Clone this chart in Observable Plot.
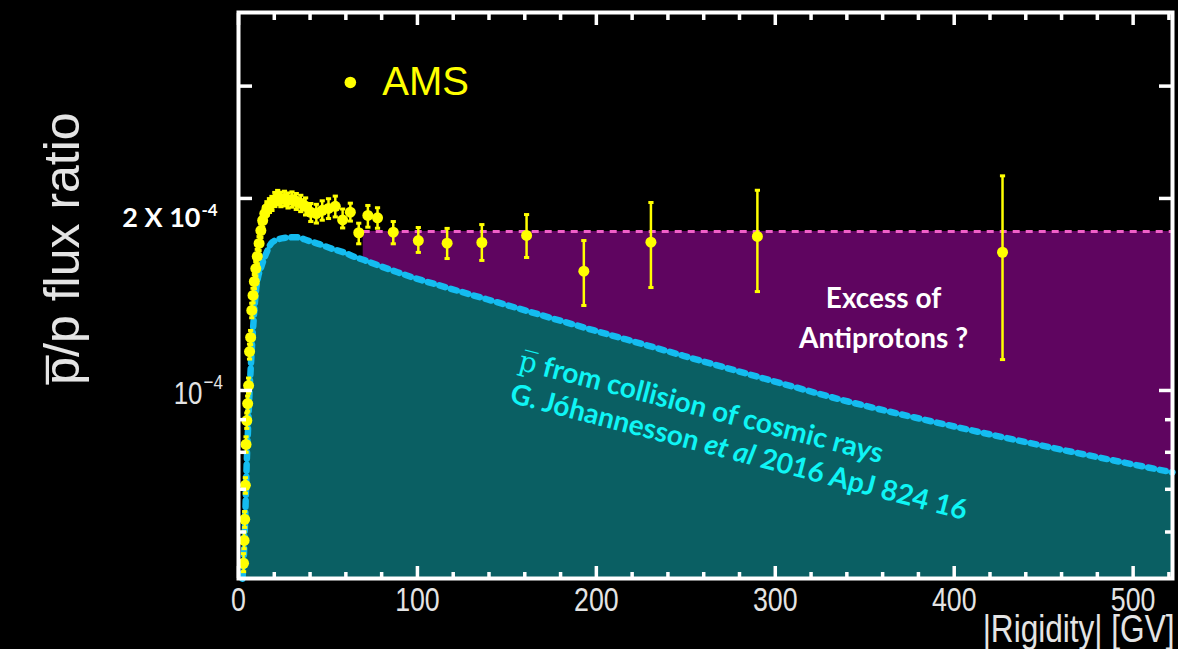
<!DOCTYPE html>
<html>
<head>
<meta charset="utf-8">
<script src="https://cdn.jsdelivr.net/npm/d3@7"></script>
<script src="https://cdn.jsdelivr.net/npm/@observablehq/plot@0.6"></script>
<style>
  html, body { margin: 0; padding: 0; background: #000; }
  #chart svg { display: block; }
</style>
</head>
<body>
<div id="chart"></div>
<script>
// AMS antiproton-to-proton flux ratio; ratio values are in units of 1e-4
const rigidity = [2.82, 3.13, 3.46, 3.83, 4.22, 4.65, 5.12, 5.63, 6.18, 6.78, 7.42, 8.11, 8.86, 9.67,
  10.5, 11.5, 12.5, 13.5, 14.7, 15.9, 17.3, 18.7, 20.3, 21.9, 23.7, 25.7, 27.7, 29.9, 32.3, 34.8,
  37.5, 40.4, 43.5, 46.8, 50.3, 54.1, 58.2, 62.5, 67.2, 72.3, 77.7, 86.5, 100.5, 116.6, 136, 161,
  193, 230.5, 290, 427];
const ratio = [0.536, 0.582, 0.628, 0.710, 0.823, 0.897, 0.954, 1.018, 1.151, 1.211, 1.335, 1.409, 1.482, 1.553,
  1.622, 1.700, 1.781, 1.847, 1.894, 1.929, 1.950, 1.965, 1.993, 2.007, 1.993, 2.000, 1.986, 1.993, 1.979, 1.965,
  1.944, 1.902, 1.894, 1.916, 1.929, 1.944, 1.851, 1.903, 1.767, 1.881, 1.865, 1.771, 1.718, 1.702, 1.706, 1.750,
  1.538, 1.708, 1.744, 1.647];
const ratioLow = [0.520, 0.565, 0.610, 0.690, 0.800, 0.872, 0.928, 0.990, 1.120, 1.180, 1.300, 1.372, 1.444, 1.513,
  1.580, 1.657, 1.737, 1.801, 1.847, 1.881, 1.901, 1.915, 1.942, 1.955, 1.941, 1.947, 1.932, 1.938, 1.922, 1.907,
  1.884, 1.840, 1.830, 1.849, 1.860, 1.871, 1.798, 1.843, 1.698, 1.803, 1.796, 1.698, 1.646, 1.610, 1.599, 1.616,
  1.359, 1.450, 1.429, 1.118];
const ratioHigh = [0.555, 0.600, 0.646, 0.730, 0.846, 0.922, 0.980, 1.046, 1.182, 1.242, 1.370, 1.446, 1.520, 1.593,
  1.664, 1.743, 1.825, 1.893, 1.941, 1.977, 1.999, 2.015, 2.044, 2.059, 2.045, 2.053, 2.040, 2.048, 2.036, 2.023,
  2.004, 1.964, 1.958, 1.983, 1.998, 2.017, 1.925, 1.966, 1.829, 1.950, 1.934, 1.840, 1.801, 1.795, 1.820, 1.887,
  1.718, 1.971, 2.060, 2.170];

// Secondary antiprotons from cosmic-ray collisions (Jóhannesson et al. 2016), units of 1e-4
const modelRigidity = [2.2, 3.0, 3.8, 4.6, 5.4, 6.2, 7.2, 8.3, 9.8, 10.8, 12.8, 15.4, 18.9, 25.4, 32.0,
  38.8, 45.7, 52.2, 58.7, 65.3, 69.7, 71.8, 78.3, 84.9, 91.4, 97.9, 104.5, 150, 198.8, 228.7, 266,
  303.4, 340.7, 378, 415.4, 522];
const modelRatio = [0.507, 0.55, 0.64, 0.77, 0.88, 1.0, 1.13, 1.27, 1.435, 1.498, 1.565, 1.638, 1.708, 1.734, 1.739,
  1.718, 1.694, 1.668, 1.647, 1.618, 1.603, 1.595, 1.570, 1.546, 1.524, 1.502, 1.483, 1.361, 1.242, 1.176, 1.098,
  1.026, 0.961, 0.907, 0.859, 0.744];

// Level of the observed plateau above the model
const excessLevel = 1.775;
const excessFrom = 69.7;

const xMajorTicks = [0, 100, 200, 300, 400, 500];
const xMinorTicks = [20, 40, 60, 80, 120, 140, 160, 180, 220, 240, 260, 280, 320, 340, 360, 380,
  420, 440, 460, 480, 520];
const yMajorTicks = [1, 2, 3];
const yMinorTicks = [0.6, 0.7, 0.8, 0.9];

const E = 1e-4;
const ams = rigidity.map((r, i) => ({r, v: ratio[i] * E, lo: ratioLow[i] * E, hi: ratioHigh[i] * E}));
const model = modelRigidity.map((r, i) => ({r, v: modelRatio[i] * E}));
const excess = model.filter(d => d.r >= excessFrom);

const xDomain = [0, 522];
const yDomain = [5.073e-5, 3.913e-4];

const yellow = "#ffff00";
const teal = "#0a5f63";
const purple = "#5f0560";
const pink = "#f060c8";
const sky = "#14bcf0";
const cyanText = "#0ff5f5";
const axisText = "#e4e4e4";
const helv = "'Liberation Sans', Arial, sans-serif";
const calib = "Lato, 'Open Sans', sans-serif";

// small flat caps at the ends of the error bars
const capSymbol = {
  draw(ctx) {
    ctx.moveTo(-2.6, -1.5); ctx.lineTo(2.6, -1.5); ctx.lineTo(2.6, 1.5); ctx.lineTo(-2.6, 1.5); ctx.closePath();
  }
};

const tickStyle = {stroke: "#fff", strokeWidth: 3.5, fill: "none", label: null};

const plot = Plot.plot({
  width: 1178,
  height: 649,
  marginLeft: 238,
  marginRight: 6,
  marginTop: 12,
  marginBottom: 71,
  style: {background: "#000", color: "#fff", overflow: "visible"},
  x: {type: "linear", domain: xDomain},
  y: {type: "log", domain: yDomain},
  marks: [
    // model band and the excess above it
    Plot.areaY(model, {x: "r", y1: yDomain[0], y2: "v", fill: teal, curve: "monotone-x"}),
    Plot.areaY(excess, {x: "r", y1: "v", y2: excessLevel * E, fill: purple, curve: "monotone-x"}),
    Plot.ruleY([excessLevel * E], {x1: excessFrom, x2: xDomain[1], stroke: pink, strokeWidth: 3, strokeDasharray: "7,6"}),
    Plot.line(model, {x: "r", y: "v", stroke: sky, strokeWidth: 6.5, strokeDasharray: "6,6", curve: "monotone-x"}),

    // annotations
    Plot.text(["Excess of\nAntiprotons ?"], {x: 360.5, y: 1.311e-4, text: d => d, fill: "#fff",
      fontFamily: calib, fontWeight: "bold", fontSize: 28, lineHeight: 1.43, textAnchor: "middle", lineAnchor: "middle"}),
    Plot.text(["p\u0305 from collision of cosmic rays"], {x: 258.5, y: 0.9405e-4, text: d => d, fill: cyanText,
      fontFamily: calib, fontWeight: "bold", fontSize: 28, rotate: 14.5, textAnchor: "middle", lineAnchor: "middle"}),
    Plot.text(["G. Jóhannesson et al 2016 ApJ 824 16"], {x: 279.6, y: 0.7995e-4, text: d => d, fill: cyanText,
      fontFamily: calib, fontWeight: "bold", fontSize: 28, rotate: 14.5, textAnchor: "middle", lineAnchor: "middle"}),

    // AMS measurements
    Plot.ruleX(ams, {x: "r", y1: "lo", y2: "hi", stroke: yellow, strokeWidth: 2.5}),
    Plot.dot(ams, {x: "r", y: "lo", symbol: capSymbol, fill: yellow, stroke: "none"}),
    Plot.dot(ams, {x: "r", y: "hi", symbol: capSymbol, fill: yellow, stroke: "none"}),
    Plot.dot(ams, {x: "r", y: "v", r: 5.5, fill: yellow, stroke: "none"}),

    // legend
    Plot.dot([{r: 62.5, v: 3.04e-4}], {x: "r", y: "v", r: 5.8, fill: yellow, stroke: "none"}),
    Plot.text(["AMS"], {x: 80.4, y: 3.04e-4, text: d => d, fill: yellow, fontFamily: helv, fontSize: 40,
      textAnchor: "start", lineAnchor: "middle"}),

    // frame and inward ticks on all four sides
    Plot.frame({stroke: "#fff", strokeWidth: 4}),
    Plot.axisX(xMajorTicks, {anchor: "bottom", tickSize: -12, ...tickStyle}),
    Plot.axisX(xMinorTicks, {anchor: "bottom", tickSize: -6, ...tickStyle}),
    Plot.axisX(xMajorTicks, {anchor: "top", tickSize: -12, ...tickStyle}),
    Plot.axisX(xMinorTicks, {anchor: "top", tickSize: -7, ...tickStyle}),
    Plot.axisY(yMajorTicks.map(d => d * E), {anchor: "left", tickSize: -14, ...tickStyle}),
    Plot.axisY(yMinorTicks.map(d => d * E), {anchor: "left", tickSize: -8, ...tickStyle}),
    Plot.axisY(yMajorTicks.map(d => d * E), {anchor: "right", tickSize: -14, ...tickStyle}),
    Plot.axisY(yMinorTicks.map(d => d * E), {anchor: "right", tickSize: -8, ...tickStyle}),

    // x tick labels and title
    Plot.axisX(xMajorTicks, {anchor: "bottom", tickSize: 0, tickPadding: 9, fill: axisText, fontFamily: helv,
      fontSize: 33, label: null}),
    Plot.text(["|Rigidity| [GV]"], {frameAnchor: "bottom-right", dx: 2, dy: 51, text: d => d, fill: axisText,
      fontFamily: helv, fontSize: 39, textAnchor: "end", lineAnchor: "middle"}),

    // y tick labels
    Plot.text([1e-4], {y: d => d, frameAnchor: "left", text: () => "10", dx: -36, dy: 3, fill: axisText,
      fontFamily: helv, fontSize: 32, textAnchor: "end", lineAnchor: "middle"}),
    Plot.text([1e-4], {y: d => d, frameAnchor: "left", text: () => "\u22124", dx: -35, dy: -8, fill: axisText,
      fontFamily: helv, fontSize: 21, textAnchor: "start", lineAnchor: "middle"}),
    Plot.text([1.861e-4], {y: d => d, frameAnchor: "left", text: () => "2 X 10", dx: -38, fill: "#fff",
      fontFamily: calib, fontWeight: "bold", fontSize: 27, textAnchor: "end", lineAnchor: "middle"}),
    Plot.text([1.861e-4], {y: d => d, frameAnchor: "left", text: () => "-4", dx: -37, dy: -8, fill: "#fff",
      fontFamily: calib, fontWeight: "bold", fontSize: 17, textAnchor: "start", lineAnchor: "middle"}),

    // y title
    Plot.text(["p\u0305/p flux ratio"], {frameAnchor: "left", dx: -176, dy: -47, rotate: -90, text: d => d,
      fill: axisText, fontFamily: helv, fontSize: 50, textAnchor: "middle", lineAnchor: "middle"})
  ]
});

document.getElementById("chart").appendChild(plot);

const svg = d3.select(plot);
const byText = s => svg.selectAll("text").filter(function () { return this.textContent === s; });

// condensed Helvetica look for the axis numbers and the x title
function condense(sel, k) {
  sel.each(function () {
    const t = d3.select(this);
    let tr = t.attr("transform");
    if (!tr) {
      tr = `translate(${+t.attr("x") || 0},${+t.attr("y") || 0})`;
      t.attr("x", null).attr("y", null);
    }
    t.attr("transform", `${tr} scale(${k},1)`);
  });
}
condense(svg.selectAll('g[aria-label="x-axis tick label"] text'), 0.81);
condense(byText("10"), 0.81);
condense(byText("\u22124"), 0.81);
condense(byText("|Rigidity| [GV]"), 0.81);

// the antiproton symbol in a light serif face
byText("p\u0305 from collision of cosmic rays").each(function () {
  const t = d3.select(this);
  t.text(null);
  t.append("tspan").attr("font-family", "'DejaVu Serif', serif").attr("font-weight", "normal").text("p\u0305");
  t.append("tspan").text(" from collision of cosmic rays");
});

// set "et al" in italics within the reference line
byText("G. Jóhannesson et al 2016 ApJ 824 16").each(function () {
  const t = d3.select(this);
  t.text(null);
  t.append("tspan").text("G. Jóhannesson ");
  t.append("tspan").attr("font-style", "italic").text("et al");
  t.append("tspan").text(" 2016 ApJ 824 16");
});
</script>
</body>
</html>
